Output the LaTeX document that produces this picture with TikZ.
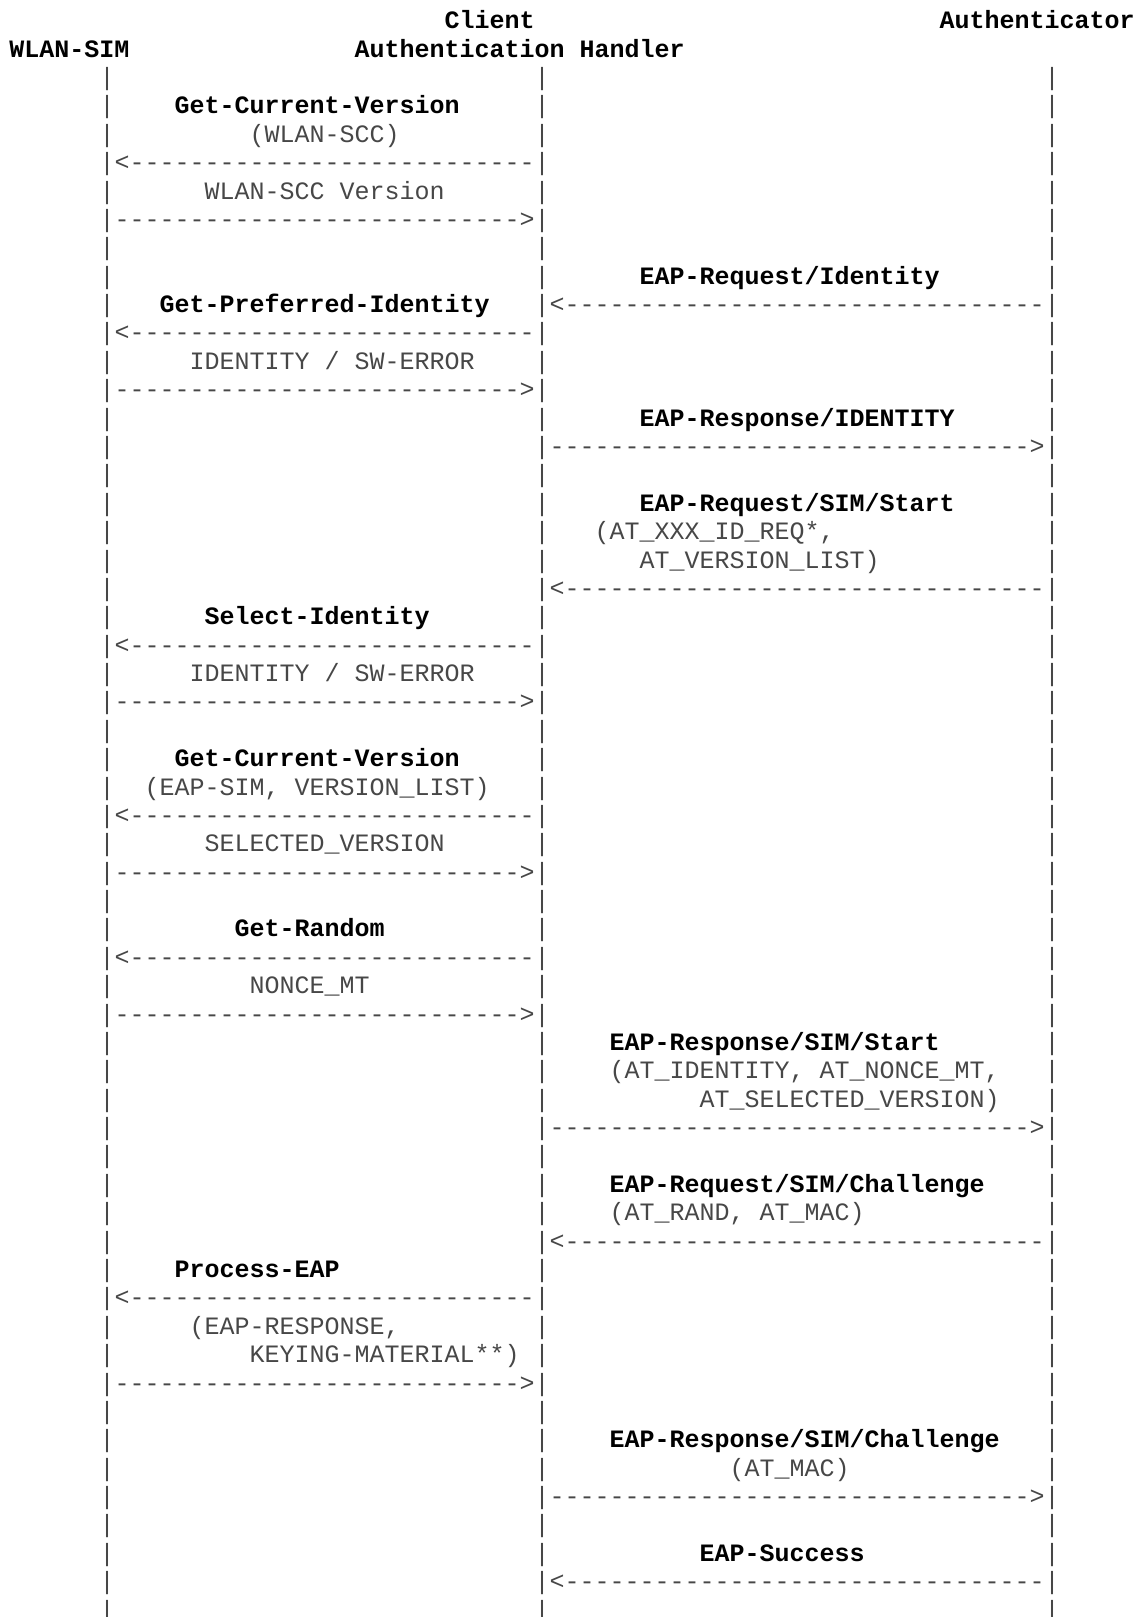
\documentclass[tikz,border=0pt]{standalone}
\usepackage{fontspec}
\setmonofont{Liberation Mono}
\usepackage{tikz}

% one row of dashes, nine long
\newcommand{\dnine}{---------}

\begin{document}
\begin{tikzpicture}[x=7.5pt,y=-14.19pt,
    asc/.style={inner sep=0pt,outer sep=0pt,anchor=base west,text=black!72,
      font=\ttfamily\fontsize{12.5pt}{14pt}\selectfont},
    hd/.style={asc,text=black,font=\ttfamily\bfseries\fontsize{12.5pt}{14pt}\selectfont}]
    \useasboundingbox (0pt,0pt) rectangle (570pt,-808.5pt);
  \begin{scope}[shift={(4.75pt,-0.2pt)}]
    % heads
    \node[hd] (cli) at (29,1) {Client};
    \node[hd] (auth) at (62,1) {Authenticator};
    \node[hd] (sim) at (0,2) {WLAN-SIM};
    \node[hd] (cah) at (23,2) {Authentication Handler};

    % life lines
    \foreach \r in {3,...,57}{
      \node[asc] (s\r) at (6,\r) {|};
      \node[asc] (h\r) at (35,\r) {|};
      \node[asc] (a\r) at (69,\r) {|};
    }

    % arrows, SIM side
    \foreach \r in {6,12,23,29,34,46}
      \node[asc] (ls\r) at (7,\r) {<\dnine\dnine\dnine};
    \foreach \r in {8,14,25,31,36,49}
      \node[asc] (rs\r) at (7,\r) {\dnine\dnine\dnine>};
    % arrows, authenticator side
    \foreach \r in {11,21,44,56}
      \node[asc] (la\r) at (36,\r) {<\dnine\dnine\dnine-----};
    \foreach \r in {16,40,53}
      \node[asc] (ra\r) at (36,\r) {\dnine\dnine\dnine----->};

    % messages
    \node[hd] (m4) at (11,4) {Get-Current-Version};
    \node[asc] (m5) at (16,5) {(WLAN-SCC)};
    \node[asc] (m7) at (13,7) {WLAN-SCC Version};
    \node[hd] (m10) at (42,10) {EAP-Request/Identity};
    \node[hd] (m11) at (10,11) {Get-Preferred-Identity};
    \node[asc] (m13) at (12,13) {IDENTITY / SW-ERROR};
    \node[hd] (m15) at (42,15) {EAP-Response/IDENTITY};
    \node[hd] (m18) at (42,18) {EAP-Request/SIM/Start};
    \node[asc] (m19) at (39,19) {(AT\_XXX\_ID\_REQ*,};
    \node[asc] (m20) at (42,20) {AT\_VERSION\_LIST)};
    \node[hd] (m22) at (13,22) {Select-Identity};
    \node[asc] (m24) at (12,24) {IDENTITY / SW-ERROR};
    \node[hd] (m27) at (11,27) {Get-Current-Version};
    \node[asc] (m28) at (9,28) {(EAP-SIM, VERSION\_LIST)};
    \node[asc] (m30) at (13,30) {SELECTED\_VERSION};
    \node[hd] (m33) at (15,33) {Get-Random};
    \node[asc] (m35) at (16,35) {NONCE\_MT};
    \node[hd] (m37) at (40,37) {EAP-Response/SIM/Start};
    \node[asc] (m38) at (40,38) {(AT\_IDENTITY, AT\_NONCE\_MT,};
    \node[asc] (m39) at (46,39) {AT\_SELECTED\_VERSION)};
    \node[hd] (m42) at (40,42) {EAP-Request/SIM/Challenge};
    \node[asc] (m43) at (40,43) {(AT\_RAND, AT\_MAC)};
    \node[hd] (m45) at (11,45) {Process-EAP};
    \node[asc] (m47) at (12,47) {(EAP-RESPONSE,};
    \node[asc] (m48) at (16,48) {KEYING-MATERIAL**)};
    \node[hd] (m51) at (40,51) {EAP-Response/SIM/Challenge};
    \node[asc] (m52) at (48,52) {(AT\_MAC)};
    \node[hd] (m55) at (46,55) {EAP-Success};
  \end{scope}
\end{tikzpicture}
\end{document}
